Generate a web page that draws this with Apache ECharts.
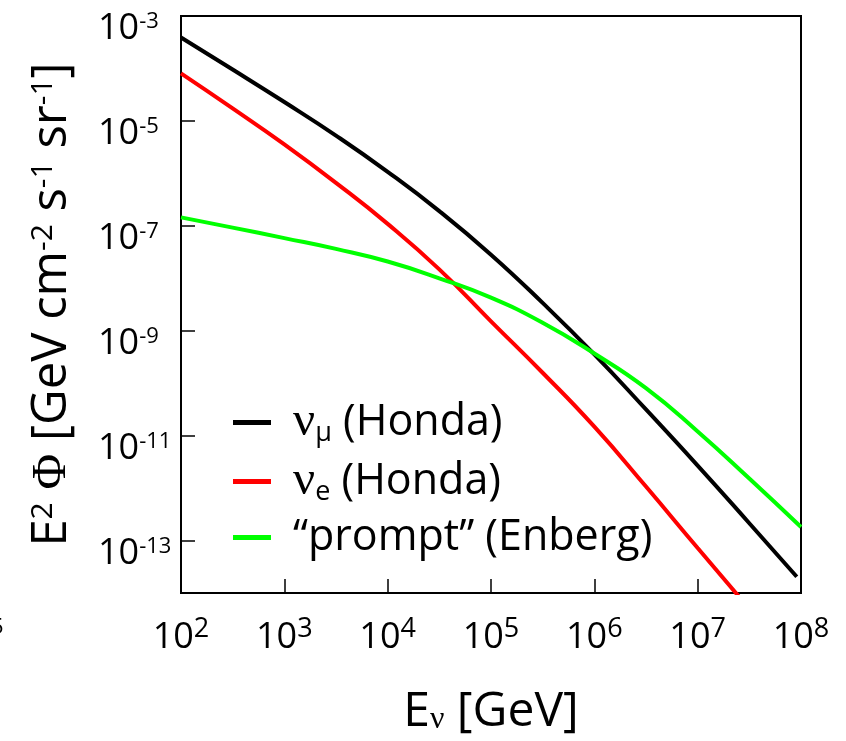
<!DOCTYPE html>
<html>
<head>
<meta charset="utf-8">
<script src="https://cdn.jsdelivr.net/npm/echarts@6/dist/echarts.min.js"></script>
<style>
  html, body { margin: 0; padding: 0; background: #fff; }
  #main { width: 846px; height: 741px; }
</style>
</head>
<body>
<div id="main"></div>
<script>
// energies [GeV]
var energy = [1e2, 3.16e2, 1e3, 3.16e3, 1e4, 3.16e4, 1e5, 3.16e5, 1e6, 3.16e6, 1e7, 3.16e7, 1e8];
// E^2 flux [GeV cm^-2 s^-1 sr^-1]
var numuHonda = [3.89e-4, 9.55e-5, 2.29e-5, 5.25e-6, 1.07e-6, 1.91e-7, 2.82e-8, 3.39e-9, 3.55e-10, 3.16e-11, 2.69e-12, 2.14e-13, null];
var nueHonda = [8.04e-5, 1.73e-5, 3.56e-6, 6.59e-7, 1.09e-7, 1.48e-8, 1.51e-9, 1.58e-10, 1.48e-11, 1.07e-12, 7.2e-14, 5.0e-15, null];
var promptEnberg = [1.45e-7, 9.25e-8, 5.83e-8, 3.63e-8, 2.09e-8, 1.0e-8, 4.26e-9, 1.42e-9, 3.68e-10, 8.04e-11, 1.20e-11, 1.52e-12, 1.81e-13];
// last point of numu
var numuEnd = [9.1e7, 2.04e-14];

var xTicks = [1e2, 1e3, 1e4, 1e5, 1e6, 1e7, 1e8];
var yTicks = [1e-13, 1e-11, 1e-9, 1e-7, 1e-5, 1e-3];

function pairs(xs, ys) {
    var out = [];
    for (var i = 0; i < xs.length; i++) {
        if (ys[i] != null) out.push([xs[i], ys[i]]);
    }
    return out;
}

var numuData = pairs(energy, numuHonda);
numuData.push(numuEnd);

var font = 'Open Sans';
var greek = 'Liberation Serif';

var myChart = echarts.init(document.getElementById('main'));

var option = {
    animation: false,
    grid: {
        left: 181, right: 45, top: 16, bottom: 148,
        show: true, borderColor: '#000', borderWidth: 2
    },
    legend: {
        orient: 'vertical',
        left: 228, top: 393,
        itemWidth: 38, itemHeight: 5,
        itemGap: 10,
        icon: 'rect',
        data: ['numu', 'nue', 'prompt'],
        formatter: function (name) {
            if (name === 'numu') return '{g|ν}{sub|μ}{t| (Honda)}';
            if (name === 'nue') return '{g|ν}{sub|e}{t| (Honda)}';
            return '{t|“prompt” (Enberg)}';
        },
        textStyle: {
            padding: [0, 0, 0, 17],
            rich: {
                t: { fontFamily: font, fontSize: 43, color: '#000', lineHeight: 49 },
                g: { fontFamily: greek, fontSize: 49, color: '#000', lineHeight: 49 },
                sub: { fontFamily: font, fontSize: 27, color: '#000', verticalAlign: 'bottom', lineHeight: 32, padding: [8, 0, 0, 0] }
            }
        }
    },
    graphic: [{
        type: 'text',
        x: -9, y: 617,
        style: { text: '5', font: '22px "Open Sans"', fill: '#000', textVerticalAlign: 'top' }
    }],
    xAxis: {
        type: 'log',
        logBase: 10,
        min: 1e2, max: 1e8,
        name: '{t|E}{sub|ν}{t| [GeV]}',
        nameLocation: 'middle',
        nameGap: 95,
        nameTextStyle: {
            rich: {
                t: { fontFamily: font, fontSize: 48, color: '#000' },
                sub: { fontFamily: greek, fontSize: 32, color: '#000', verticalAlign: 'bottom', padding: [10, 0, 0, 0] }
            }
        },
        axisLine: { show: true, onZero: false, lineStyle: { color: '#000', width: 2 } },
        axisTick: { show: true, inside: true, length: 14, customValues: xTicks, lineStyle: { color: '#000', width: 1.5 } },
        splitLine: { show: false },
        minorTick: { show: false },
        axisLabel: {
            customValues: xTicks,
            margin: 23,
            formatter: function (v) {
                return '{b|10}{s|' + Math.round(Math.log10(v)) + '}';
            },
            rich: {
                b: { fontFamily: font, fontSize: 36, color: '#000', padding: [4, 0, 0, 0] },
                s: { fontFamily: font, fontSize: 27, color: '#000', verticalAlign: 'top' }
            }
        }
    },
    yAxis: {
        type: 'log',
        logBase: 10,
        min: 1e-14, max: 1e-3,
        name: '{t|E}{sup|2}{t| }{g|Φ}{t| [GeV cm}{sup|-2}{t| s}{sup|-1}{t| sr}{sup|-1}{t|]}',
        nameLocation: 'middle',
        nameGap: 104,
        nameTextStyle: {
            rich: {
                t: { fontFamily: font, fontSize: 49, color: '#000' },
                g: { fontFamily: greek, fontSize: 49, color: '#000' },
                sup: { fontFamily: font, fontSize: 30, color: '#000', verticalAlign: 'top' }
            }
        },
        axisLine: { show: true, onZero: false, lineStyle: { color: '#000', width: 2 } },
        axisTick: { show: true, inside: true, length: 14, customValues: yTicks, lineStyle: { color: '#000', width: 1.5 } },
        splitLine: { show: false },
        minorTick: { show: false },
        axisLabel: {
            customValues: yTicks,
            margin: 83,
            align: 'left',
            padding: [26, 0, 0, 0],
            formatter: function (v) {
                return '{b|10}{s|' + Math.round(Math.log10(v)) + '}';
            },
            rich: {
                b: { fontFamily: font, fontSize: 36, color: '#000' },
                s: { fontFamily: font, fontSize: 22, color: '#000', verticalAlign: 'top' }
            }
        }
    },
    series: [
        {
            name: 'numu',
            type: 'line',
            data: numuData,
            smooth: true,
            showSymbol: false,
            color: '#000000',
            lineStyle: { width: 4, color: '#000000' }
        },
        {
            name: 'nue',
            type: 'line',
            data: pairs(energy, nueHonda),
            smooth: true,
            showSymbol: false,
            color: '#ff0000',
            lineStyle: { width: 4, color: '#ff0000' }
        },
        {
            name: 'prompt',
            type: 'line',
            data: pairs(energy, promptEnberg),
            smooth: true,
            showSymbol: false,
            color: '#00ff00',
            lineStyle: { width: 4, color: '#00ff00' }
        }
    ]
};

myChart.setOption(option);
</script>
</body>
</html>
